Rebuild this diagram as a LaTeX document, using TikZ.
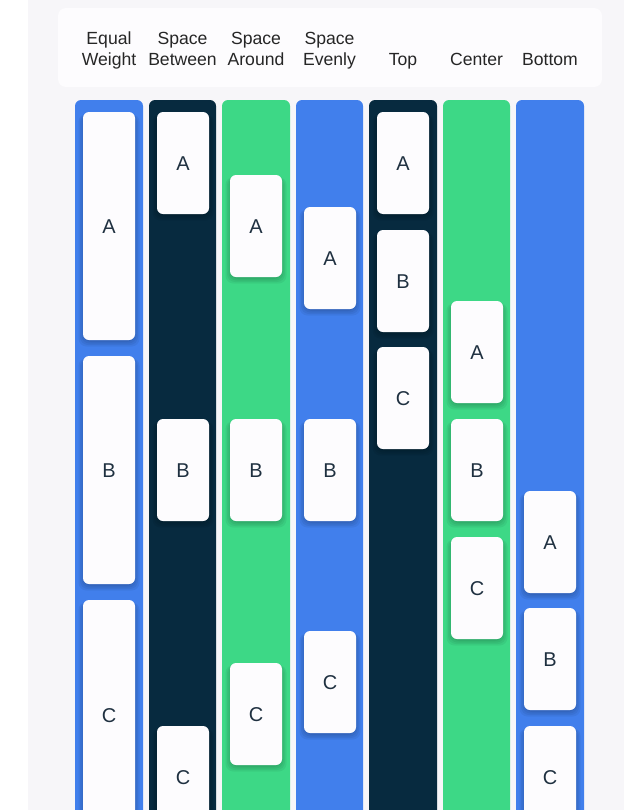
\documentclass[tikz,border=0pt]{standalone}
\usepackage{fontspec}
\setmainfont{Liberation Sans}
\definecolor{bgmain}{HTML}{F7F6F9}
\definecolor{bgleft}{HTML}{FFFFFF}
\definecolor{hdr}{HTML}{FDFCFE}
\definecolor{cblue}{HTML}{417FEC}
\definecolor{cnavy}{HTML}{072A3F}
\definecolor{cgreen}{HTML}{3DD886}
\definecolor{cardbg}{HTML}{FDFCFE}
\definecolor{ink}{HTML}{1F3040}
\tikzset{
  colbox/.style={rounded corners=4.5pt, draw=none},
  card/.style={rounded corners=4.5pt, fill=cardbg, draw=none},
  shadowlayer/.style={fill=black, fill opacity=0.05, rounded corners=6pt, draw=none},
  cardlbl/.style={font=\fontsize{15}{17}\selectfont, text=ink, anchor=base, inner sep=0pt},
  hdrlbl/.style={font=\fontsize{13.2}{15.75}\selectfont, text=black!85, anchor=base, inner sep=0pt}
}
\begin{document}
\begin{tikzpicture}[x=0.75pt,y=-0.75pt]
\useasboundingbox (0,0) rectangle (624,810);
\fill[bgleft] (0,0) rectangle (624,810);
\fill[bgmain] (28,0) rectangle (624,810);
\fill[hdr, rounded corners=6pt] (58,8) rectangle (602,87);
% header labels (baselines at y=44 and y=65)
\node[hdrlbl] (h1a) at (109,44) {Equal};
\node[hdrlbl] (h1b) at (109,65) {Weight};
\node[hdrlbl] (h2a) at (182.5,44) {Space};
\node[hdrlbl] (h2b) at (182.5,65) {Between};
\node[hdrlbl] (h3a) at (256,44) {Space};
\node[hdrlbl] (h3b) at (256,65) {Around};
\node[hdrlbl] (h4a) at (329.5,44) {Space};
\node[hdrlbl] (h4b) at (329.5,65) {Evenly};
\node[hdrlbl] (h5) at (403,65) {Top};
\node[hdrlbl] (h6) at (476.5,65) {Center};
\node[hdrlbl] (h7) at (550,65) {Bottom};
% columns
\clip (0,0) rectangle (624,810);
\fill[cblue, colbox] (75,100) rectangle (143,830);
\fill[cnavy, colbox] (149,100) rectangle (216,830);
\fill[cgreen, colbox] (222,100) rectangle (290,830);
\fill[cblue, colbox] (296,100) rectangle (363,830);
\fill[cnavy, colbox] (369,100) rectangle (437,830);
\fill[cgreen, colbox] (443,100) rectangle (510,830);
\fill[cblue, colbox] (516,100) rectangle (584,830);
% cards: macro \crd{name}{x}{ytop}{ybottom}{label}
\newcommand{\crd}[5]{%
  \foreach \e in {1,2.5,4,5.5}{%
    \path[shadowlayer] (#2-26-\e+1,#3+2) rectangle (#2+26+\e-1,#4+\e+1);}
  \path[card] (#2-26,#3) rectangle (#2+26,#4);
  \node[cardlbl] (#1) at (#2,{(#3+#4)/2+7.5}) {#5};}
% col1 equal weight
\crd{a1}{109}{112}{340}{A}
\crd{b1}{109}{356}{584}{B}
\crd{c1}{109}{600}{830}{C}
% col2 space between
\crd{a2}{183}{112}{214}{A}
\crd{b2}{183}{419}{521}{B}
\crd{c2}{183}{726}{828}{C}
% col3 space around
\crd{a3}{256}{175}{277}{A}
\crd{b3}{256}{419}{521}{B}
\crd{c3}{256}{663}{765}{C}
% col4 space evenly
\crd{a4}{330}{207}{309}{A}
\crd{b4}{330}{419}{521}{B}
\crd{c4}{330}{631}{733}{C}
% col5 top
\crd{a5}{403}{112}{214}{A}
\crd{b5}{403}{230}{332}{B}
\crd{c5}{403}{347}{449}{C}
% col6 center
\crd{a6}{477}{301}{403}{A}
\crd{b6}{477}{419}{521}{B}
\crd{c6}{477}{537}{639}{C}
% col7 bottom
\crd{a7}{550}{491}{593}{A}
\crd{b7}{550}{608}{710}{B}
\crd{c7}{550}{726}{828}{C}
\end{tikzpicture}
\end{document}
